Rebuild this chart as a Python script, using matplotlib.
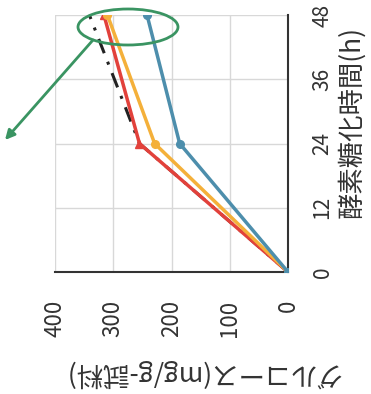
import matplotlib
matplotlib.use("Agg")
import matplotlib.pyplot as plt
from matplotlib.patches import Ellipse

plt.rcParams['font.family'] = ['Noto Sans CJK JP', 'DejaVu Sans']

# 酵素糖化時間 (h) と グルコース量 (mg/g-試料)
hours = [0, 24, 48]
red = [0, 255, 316]
orange = [0, 229, 310]
blue = [0, 186, 242]
black = [0, 255, 341]

time_ticks = [0, 12, 24, 36, 48]
glc_ticks = [0, 100, 200, 300, 400]

W, H = 371, 394
fig = plt.figure(figsize=(W / 100, H / 100), dpi=100)
# 図は90度回転した状態: 横軸=グルコース(右が0), 縦軸=時間
ax = fig.add_axes([55 / W, 1 - 272 / H, (288 - 55) / W, (272 - 15) / H])

ax.plot(black, hours, color='#222222', lw=2.2, ls=(0, (5, 3, 1, 3)), zorder=2)
ax.plot(red, hours, color='#e2413b', lw=2.5, marker='^', ms=6, zorder=3)
ax.plot(orange, hours, color='#f4b03a', lw=2.5, marker='o', ms=5.5, zorder=4)
ax.plot(blue, hours, color='#4d8eac', lw=2.5, marker='o', ms=5.5, zorder=5)

ax.set_xlim(400, 0)
ax.set_ylim(0, 48)
ax.set_xticks(glc_ticks)
ax.set_yticks(time_ticks)
ax.set_xticklabels([str(v) for v in glc_ticks], rotation=90, fontsize=16, va='top')
ax.set_yticklabels([str(v) for v in time_ticks], rotation=90, fontsize=15, ha='left', va='center')
ax.yaxis.tick_right()
ax.tick_params(axis='x', length=0, pad=20, colors='#333333')
ax.tick_params(axis='y', length=0, pad=17, colors='#333333')
ax.grid(True, color='#d8d8d8', lw=1)
for s in ['left', 'top']:
    ax.spines[s].set_visible(False)
for s in ['bottom', 'right']:
    ax.spines[s].set_color('#333333')
    ax.spines[s].set_linewidth(1.5)

fig.text(352 / W, 1 - 122 / H, '酵素糖化時間(h)', rotation=90, fontsize=19,
         ha='center', va='center', color='#333333')
fig.text(202 / W, 1 - 373 / H, 'グルコース(mg/g-試料)', rotation=180, fontsize=19,
         ha='center', va='center', color='#333333')

# 緑の楕円と矢印
ell = Ellipse((128 / W, 1 - 27 / H), 100 / W, 36 / H, transform=fig.transFigure,
              fill=False, edgecolor='#3a9462', lw=2, zorder=10)
fig.add_artist(ell)
fig.add_artist(plt.Annotation('', xy=(5 / W, 1 - 140 / H), xytext=(93 / W, 1 - 40 / H),
                              xycoords='figure fraction', textcoords='figure fraction',
                              arrowprops=dict(arrowstyle='-|>', color='#3a9462', lw=2,
                                              mutation_scale=14, shrinkA=0, shrinkB=0)))

fig.savefig('out.png', dpi=100)
